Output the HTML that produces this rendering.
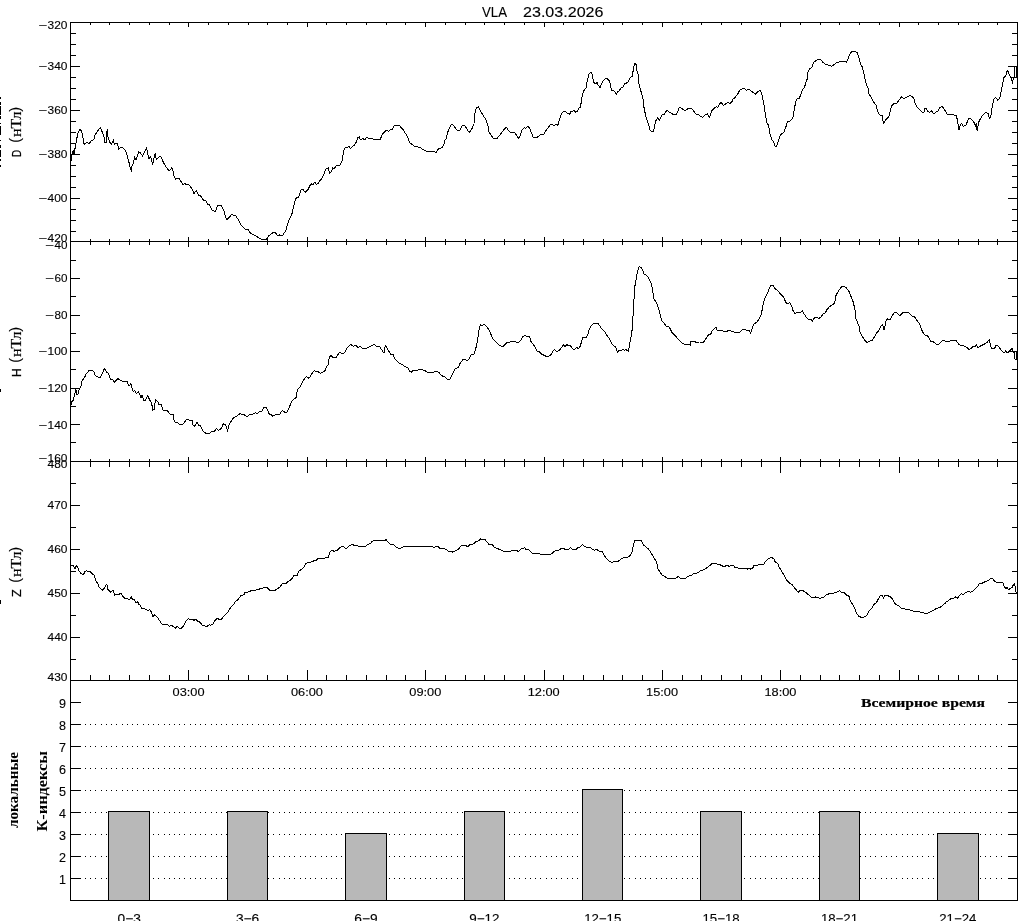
<!DOCTYPE html>
<html lang="ru"><head><meta charset="utf-8"><title>VLA 23.03.2026</title>
<style>html,body{margin:0;padding:0;background:#fff}body{width:1024px;height:921px;overflow:hidden}svg{display:block}.s{font-family:"Liberation Sans","DejaVu Sans",sans-serif;fill:#000;stroke:#000;stroke-width:.12px}.r{font-family:"Liberation Serif","DejaVu Serif",serif;fill:#000;stroke:#000;stroke-width:.2px}</style></head><body>
<svg width="1024" height="921" viewBox="0 0 1024 921">
<rect width="1024" height="921" fill="#fff"/>
<g shape-rendering="crispEdges" fill="#000">
<rect x="70" y="22" width="1" height="879"/>
<rect x="1017" y="22" width="1" height="879"/>
<rect x="70" y="22" width="948" height="1"/>
<rect x="70" y="241" width="948" height="1"/>
<rect x="70" y="461" width="948" height="1"/>
<rect x="70" y="680" width="948" height="1"/>
<rect x="70" y="900" width="948" height="1"/>
<rect x="90" y="23" width="1" height="2"/>
<rect x="90" y="239" width="1" height="2"/>
<rect x="90" y="242" width="1" height="3"/>
<rect x="90" y="459" width="1" height="2"/>
<rect x="90" y="462" width="1" height="5"/>
<rect x="90" y="675" width="1" height="5"/>
<rect x="109" y="23" width="1" height="2"/>
<rect x="109" y="239" width="1" height="2"/>
<rect x="109" y="242" width="1" height="3"/>
<rect x="109" y="459" width="1" height="2"/>
<rect x="109" y="462" width="1" height="5"/>
<rect x="109" y="675" width="1" height="5"/>
<rect x="129" y="23" width="1" height="2"/>
<rect x="129" y="239" width="1" height="2"/>
<rect x="129" y="242" width="1" height="3"/>
<rect x="129" y="459" width="1" height="2"/>
<rect x="129" y="462" width="1" height="5"/>
<rect x="129" y="675" width="1" height="5"/>
<rect x="149" y="23" width="1" height="2"/>
<rect x="149" y="239" width="1" height="2"/>
<rect x="149" y="242" width="1" height="3"/>
<rect x="149" y="459" width="1" height="2"/>
<rect x="149" y="462" width="1" height="5"/>
<rect x="149" y="675" width="1" height="5"/>
<rect x="169" y="23" width="1" height="2"/>
<rect x="169" y="239" width="1" height="2"/>
<rect x="169" y="242" width="1" height="3"/>
<rect x="169" y="459" width="1" height="2"/>
<rect x="169" y="462" width="1" height="5"/>
<rect x="169" y="675" width="1" height="5"/>
<rect x="188" y="23" width="1" height="4"/>
<rect x="188" y="237" width="1" height="4"/>
<rect x="188" y="242" width="1" height="5"/>
<rect x="188" y="457" width="1" height="4"/>
<rect x="188" y="462" width="1" height="11"/>
<rect x="188" y="670" width="1" height="10"/>
<rect x="208" y="23" width="1" height="2"/>
<rect x="208" y="239" width="1" height="2"/>
<rect x="208" y="242" width="1" height="3"/>
<rect x="208" y="459" width="1" height="2"/>
<rect x="208" y="462" width="1" height="5"/>
<rect x="208" y="675" width="1" height="5"/>
<rect x="228" y="23" width="1" height="2"/>
<rect x="228" y="239" width="1" height="2"/>
<rect x="228" y="242" width="1" height="3"/>
<rect x="228" y="459" width="1" height="2"/>
<rect x="228" y="462" width="1" height="5"/>
<rect x="228" y="675" width="1" height="5"/>
<rect x="248" y="23" width="1" height="2"/>
<rect x="248" y="239" width="1" height="2"/>
<rect x="248" y="242" width="1" height="3"/>
<rect x="248" y="459" width="1" height="2"/>
<rect x="248" y="462" width="1" height="5"/>
<rect x="248" y="675" width="1" height="5"/>
<rect x="267" y="23" width="1" height="2"/>
<rect x="267" y="239" width="1" height="2"/>
<rect x="267" y="242" width="1" height="3"/>
<rect x="267" y="459" width="1" height="2"/>
<rect x="267" y="462" width="1" height="5"/>
<rect x="267" y="675" width="1" height="5"/>
<rect x="287" y="23" width="1" height="2"/>
<rect x="287" y="239" width="1" height="2"/>
<rect x="287" y="242" width="1" height="3"/>
<rect x="287" y="459" width="1" height="2"/>
<rect x="287" y="462" width="1" height="5"/>
<rect x="287" y="675" width="1" height="5"/>
<rect x="307" y="23" width="1" height="4"/>
<rect x="307" y="237" width="1" height="4"/>
<rect x="307" y="242" width="1" height="5"/>
<rect x="307" y="457" width="1" height="4"/>
<rect x="307" y="462" width="1" height="11"/>
<rect x="307" y="670" width="1" height="10"/>
<rect x="326" y="23" width="1" height="2"/>
<rect x="326" y="239" width="1" height="2"/>
<rect x="326" y="242" width="1" height="3"/>
<rect x="326" y="459" width="1" height="2"/>
<rect x="326" y="462" width="1" height="5"/>
<rect x="326" y="675" width="1" height="5"/>
<rect x="346" y="23" width="1" height="2"/>
<rect x="346" y="239" width="1" height="2"/>
<rect x="346" y="242" width="1" height="3"/>
<rect x="346" y="459" width="1" height="2"/>
<rect x="346" y="462" width="1" height="5"/>
<rect x="346" y="675" width="1" height="5"/>
<rect x="366" y="23" width="1" height="2"/>
<rect x="366" y="239" width="1" height="2"/>
<rect x="366" y="242" width="1" height="3"/>
<rect x="366" y="459" width="1" height="2"/>
<rect x="366" y="462" width="1" height="5"/>
<rect x="366" y="675" width="1" height="5"/>
<rect x="386" y="23" width="1" height="2"/>
<rect x="386" y="239" width="1" height="2"/>
<rect x="386" y="242" width="1" height="3"/>
<rect x="386" y="459" width="1" height="2"/>
<rect x="386" y="462" width="1" height="5"/>
<rect x="386" y="675" width="1" height="5"/>
<rect x="405" y="23" width="1" height="2"/>
<rect x="405" y="239" width="1" height="2"/>
<rect x="405" y="242" width="1" height="3"/>
<rect x="405" y="459" width="1" height="2"/>
<rect x="405" y="462" width="1" height="5"/>
<rect x="405" y="675" width="1" height="5"/>
<rect x="425" y="23" width="1" height="4"/>
<rect x="425" y="237" width="1" height="4"/>
<rect x="425" y="242" width="1" height="5"/>
<rect x="425" y="457" width="1" height="4"/>
<rect x="425" y="462" width="1" height="11"/>
<rect x="425" y="670" width="1" height="10"/>
<rect x="445" y="23" width="1" height="2"/>
<rect x="445" y="239" width="1" height="2"/>
<rect x="445" y="242" width="1" height="3"/>
<rect x="445" y="459" width="1" height="2"/>
<rect x="445" y="462" width="1" height="5"/>
<rect x="445" y="675" width="1" height="5"/>
<rect x="465" y="23" width="1" height="2"/>
<rect x="465" y="239" width="1" height="2"/>
<rect x="465" y="242" width="1" height="3"/>
<rect x="465" y="459" width="1" height="2"/>
<rect x="465" y="462" width="1" height="5"/>
<rect x="465" y="675" width="1" height="5"/>
<rect x="484" y="23" width="1" height="2"/>
<rect x="484" y="239" width="1" height="2"/>
<rect x="484" y="242" width="1" height="3"/>
<rect x="484" y="459" width="1" height="2"/>
<rect x="484" y="462" width="1" height="5"/>
<rect x="484" y="675" width="1" height="5"/>
<rect x="504" y="23" width="1" height="2"/>
<rect x="504" y="239" width="1" height="2"/>
<rect x="504" y="242" width="1" height="3"/>
<rect x="504" y="459" width="1" height="2"/>
<rect x="504" y="462" width="1" height="5"/>
<rect x="504" y="675" width="1" height="5"/>
<rect x="524" y="23" width="1" height="2"/>
<rect x="524" y="239" width="1" height="2"/>
<rect x="524" y="242" width="1" height="3"/>
<rect x="524" y="459" width="1" height="2"/>
<rect x="524" y="462" width="1" height="5"/>
<rect x="524" y="675" width="1" height="5"/>
<rect x="544" y="23" width="1" height="4"/>
<rect x="544" y="237" width="1" height="4"/>
<rect x="544" y="242" width="1" height="5"/>
<rect x="544" y="457" width="1" height="4"/>
<rect x="544" y="462" width="1" height="11"/>
<rect x="544" y="670" width="1" height="10"/>
<rect x="563" y="23" width="1" height="2"/>
<rect x="563" y="239" width="1" height="2"/>
<rect x="563" y="242" width="1" height="3"/>
<rect x="563" y="459" width="1" height="2"/>
<rect x="563" y="462" width="1" height="5"/>
<rect x="563" y="675" width="1" height="5"/>
<rect x="583" y="23" width="1" height="2"/>
<rect x="583" y="239" width="1" height="2"/>
<rect x="583" y="242" width="1" height="3"/>
<rect x="583" y="459" width="1" height="2"/>
<rect x="583" y="462" width="1" height="5"/>
<rect x="583" y="675" width="1" height="5"/>
<rect x="603" y="23" width="1" height="2"/>
<rect x="603" y="239" width="1" height="2"/>
<rect x="603" y="242" width="1" height="3"/>
<rect x="603" y="459" width="1" height="2"/>
<rect x="603" y="462" width="1" height="5"/>
<rect x="603" y="675" width="1" height="5"/>
<rect x="622" y="23" width="1" height="2"/>
<rect x="622" y="239" width="1" height="2"/>
<rect x="622" y="242" width="1" height="3"/>
<rect x="622" y="459" width="1" height="2"/>
<rect x="622" y="462" width="1" height="5"/>
<rect x="622" y="675" width="1" height="5"/>
<rect x="642" y="23" width="1" height="2"/>
<rect x="642" y="239" width="1" height="2"/>
<rect x="642" y="242" width="1" height="3"/>
<rect x="642" y="459" width="1" height="2"/>
<rect x="642" y="462" width="1" height="5"/>
<rect x="642" y="675" width="1" height="5"/>
<rect x="662" y="23" width="1" height="4"/>
<rect x="662" y="237" width="1" height="4"/>
<rect x="662" y="242" width="1" height="5"/>
<rect x="662" y="457" width="1" height="4"/>
<rect x="662" y="462" width="1" height="11"/>
<rect x="662" y="670" width="1" height="10"/>
<rect x="682" y="23" width="1" height="2"/>
<rect x="682" y="239" width="1" height="2"/>
<rect x="682" y="242" width="1" height="3"/>
<rect x="682" y="459" width="1" height="2"/>
<rect x="682" y="462" width="1" height="5"/>
<rect x="682" y="675" width="1" height="5"/>
<rect x="701" y="23" width="1" height="2"/>
<rect x="701" y="239" width="1" height="2"/>
<rect x="701" y="242" width="1" height="3"/>
<rect x="701" y="459" width="1" height="2"/>
<rect x="701" y="462" width="1" height="5"/>
<rect x="701" y="675" width="1" height="5"/>
<rect x="721" y="23" width="1" height="2"/>
<rect x="721" y="239" width="1" height="2"/>
<rect x="721" y="242" width="1" height="3"/>
<rect x="721" y="459" width="1" height="2"/>
<rect x="721" y="462" width="1" height="5"/>
<rect x="721" y="675" width="1" height="5"/>
<rect x="741" y="23" width="1" height="2"/>
<rect x="741" y="239" width="1" height="2"/>
<rect x="741" y="242" width="1" height="3"/>
<rect x="741" y="459" width="1" height="2"/>
<rect x="741" y="462" width="1" height="5"/>
<rect x="741" y="675" width="1" height="5"/>
<rect x="761" y="23" width="1" height="2"/>
<rect x="761" y="239" width="1" height="2"/>
<rect x="761" y="242" width="1" height="3"/>
<rect x="761" y="459" width="1" height="2"/>
<rect x="761" y="462" width="1" height="5"/>
<rect x="761" y="675" width="1" height="5"/>
<rect x="780" y="23" width="1" height="4"/>
<rect x="780" y="237" width="1" height="4"/>
<rect x="780" y="242" width="1" height="5"/>
<rect x="780" y="457" width="1" height="4"/>
<rect x="780" y="462" width="1" height="11"/>
<rect x="780" y="670" width="1" height="10"/>
<rect x="800" y="23" width="1" height="2"/>
<rect x="800" y="239" width="1" height="2"/>
<rect x="800" y="242" width="1" height="3"/>
<rect x="800" y="459" width="1" height="2"/>
<rect x="800" y="462" width="1" height="5"/>
<rect x="800" y="675" width="1" height="5"/>
<rect x="820" y="23" width="1" height="2"/>
<rect x="820" y="239" width="1" height="2"/>
<rect x="820" y="242" width="1" height="3"/>
<rect x="820" y="459" width="1" height="2"/>
<rect x="820" y="462" width="1" height="5"/>
<rect x="820" y="675" width="1" height="5"/>
<rect x="839" y="23" width="1" height="2"/>
<rect x="839" y="239" width="1" height="2"/>
<rect x="839" y="242" width="1" height="3"/>
<rect x="839" y="459" width="1" height="2"/>
<rect x="839" y="462" width="1" height="5"/>
<rect x="839" y="675" width="1" height="5"/>
<rect x="859" y="23" width="1" height="2"/>
<rect x="859" y="239" width="1" height="2"/>
<rect x="859" y="242" width="1" height="3"/>
<rect x="859" y="459" width="1" height="2"/>
<rect x="859" y="462" width="1" height="5"/>
<rect x="859" y="675" width="1" height="5"/>
<rect x="879" y="23" width="1" height="2"/>
<rect x="879" y="239" width="1" height="2"/>
<rect x="879" y="242" width="1" height="3"/>
<rect x="879" y="459" width="1" height="2"/>
<rect x="879" y="462" width="1" height="5"/>
<rect x="879" y="675" width="1" height="5"/>
<rect x="899" y="23" width="1" height="4"/>
<rect x="899" y="237" width="1" height="4"/>
<rect x="899" y="242" width="1" height="5"/>
<rect x="899" y="457" width="1" height="4"/>
<rect x="899" y="462" width="1" height="11"/>
<rect x="899" y="670" width="1" height="10"/>
<rect x="918" y="23" width="1" height="2"/>
<rect x="918" y="239" width="1" height="2"/>
<rect x="918" y="242" width="1" height="3"/>
<rect x="918" y="459" width="1" height="2"/>
<rect x="918" y="462" width="1" height="5"/>
<rect x="918" y="675" width="1" height="5"/>
<rect x="938" y="23" width="1" height="2"/>
<rect x="938" y="239" width="1" height="2"/>
<rect x="938" y="242" width="1" height="3"/>
<rect x="938" y="459" width="1" height="2"/>
<rect x="938" y="462" width="1" height="5"/>
<rect x="938" y="675" width="1" height="5"/>
<rect x="958" y="23" width="1" height="2"/>
<rect x="958" y="239" width="1" height="2"/>
<rect x="958" y="242" width="1" height="3"/>
<rect x="958" y="459" width="1" height="2"/>
<rect x="958" y="462" width="1" height="5"/>
<rect x="958" y="675" width="1" height="5"/>
<rect x="978" y="23" width="1" height="2"/>
<rect x="978" y="239" width="1" height="2"/>
<rect x="978" y="242" width="1" height="3"/>
<rect x="978" y="459" width="1" height="2"/>
<rect x="978" y="462" width="1" height="5"/>
<rect x="978" y="675" width="1" height="5"/>
<rect x="997" y="23" width="1" height="2"/>
<rect x="997" y="239" width="1" height="2"/>
<rect x="997" y="242" width="1" height="3"/>
<rect x="997" y="459" width="1" height="2"/>
<rect x="997" y="462" width="1" height="5"/>
<rect x="997" y="675" width="1" height="5"/>
<rect x="71" y="33" width="5" height="1"/>
<rect x="1012" y="33" width="5" height="1"/>
<rect x="71" y="44" width="5" height="1"/>
<rect x="1012" y="44" width="5" height="1"/>
<rect x="71" y="55" width="5" height="1"/>
<rect x="1012" y="55" width="5" height="1"/>
<rect x="71" y="66" width="9" height="1"/>
<rect x="1008" y="66" width="9" height="1"/>
<rect x="71" y="77" width="5" height="1"/>
<rect x="1012" y="77" width="5" height="1"/>
<rect x="71" y="88" width="5" height="1"/>
<rect x="1012" y="88" width="5" height="1"/>
<rect x="71" y="99" width="5" height="1"/>
<rect x="1012" y="99" width="5" height="1"/>
<rect x="71" y="110" width="9" height="1"/>
<rect x="1008" y="110" width="9" height="1"/>
<rect x="71" y="121" width="5" height="1"/>
<rect x="1012" y="121" width="5" height="1"/>
<rect x="71" y="132" width="5" height="1"/>
<rect x="1012" y="132" width="5" height="1"/>
<rect x="71" y="143" width="5" height="1"/>
<rect x="1012" y="143" width="5" height="1"/>
<rect x="71" y="154" width="9" height="1"/>
<rect x="1008" y="154" width="9" height="1"/>
<rect x="71" y="165" width="5" height="1"/>
<rect x="1012" y="165" width="5" height="1"/>
<rect x="71" y="176" width="5" height="1"/>
<rect x="1012" y="176" width="5" height="1"/>
<rect x="71" y="187" width="5" height="1"/>
<rect x="1012" y="187" width="5" height="1"/>
<rect x="71" y="198" width="9" height="1"/>
<rect x="1008" y="198" width="9" height="1"/>
<rect x="71" y="209" width="5" height="1"/>
<rect x="1012" y="209" width="5" height="1"/>
<rect x="71" y="220" width="5" height="1"/>
<rect x="1012" y="220" width="5" height="1"/>
<rect x="71" y="231" width="5" height="1"/>
<rect x="1012" y="231" width="5" height="1"/>
<rect x="71" y="260" width="5" height="1"/>
<rect x="1012" y="260" width="5" height="1"/>
<rect x="71" y="278" width="9" height="1"/>
<rect x="1008" y="278" width="9" height="1"/>
<rect x="71" y="296" width="5" height="1"/>
<rect x="1012" y="296" width="5" height="1"/>
<rect x="71" y="315" width="9" height="1"/>
<rect x="1008" y="315" width="9" height="1"/>
<rect x="71" y="333" width="5" height="1"/>
<rect x="1012" y="333" width="5" height="1"/>
<rect x="71" y="351" width="9" height="1"/>
<rect x="1008" y="351" width="9" height="1"/>
<rect x="71" y="369" width="5" height="1"/>
<rect x="1012" y="369" width="5" height="1"/>
<rect x="71" y="388" width="9" height="1"/>
<rect x="1008" y="388" width="9" height="1"/>
<rect x="71" y="406" width="5" height="1"/>
<rect x="1012" y="406" width="5" height="1"/>
<rect x="71" y="424" width="9" height="1"/>
<rect x="1008" y="424" width="9" height="1"/>
<rect x="71" y="442" width="5" height="1"/>
<rect x="1012" y="442" width="5" height="1"/>
<rect x="71" y="483" width="5" height="1"/>
<rect x="1012" y="483" width="5" height="1"/>
<rect x="71" y="505" width="9" height="1"/>
<rect x="1008" y="505" width="9" height="1"/>
<rect x="71" y="527" width="5" height="1"/>
<rect x="1012" y="527" width="5" height="1"/>
<rect x="71" y="549" width="9" height="1"/>
<rect x="1008" y="549" width="9" height="1"/>
<rect x="71" y="571" width="5" height="1"/>
<rect x="1012" y="571" width="5" height="1"/>
<rect x="71" y="593" width="9" height="1"/>
<rect x="1008" y="593" width="9" height="1"/>
<rect x="71" y="615" width="5" height="1"/>
<rect x="1012" y="615" width="5" height="1"/>
<rect x="71" y="637" width="9" height="1"/>
<rect x="1008" y="637" width="9" height="1"/>
<rect x="71" y="659" width="5" height="1"/>
<rect x="1012" y="659" width="5" height="1"/>
<rect x="71" y="878" width="10" height="1"/>
<rect x="1008" y="878" width="9" height="1"/>
<rect x="71" y="856" width="10" height="1"/>
<rect x="1008" y="856" width="9" height="1"/>
<rect x="71" y="834" width="10" height="1"/>
<rect x="1008" y="834" width="9" height="1"/>
<rect x="71" y="812" width="10" height="1"/>
<rect x="1008" y="812" width="9" height="1"/>
<rect x="71" y="790" width="10" height="1"/>
<rect x="1008" y="790" width="9" height="1"/>
<rect x="71" y="768" width="10" height="1"/>
<rect x="1008" y="768" width="9" height="1"/>
<rect x="71" y="746" width="10" height="1"/>
<rect x="1008" y="746" width="9" height="1"/>
<rect x="71" y="724" width="10" height="1"/>
<rect x="1008" y="724" width="9" height="1"/>
<rect x="71" y="702" width="10" height="1"/>
<rect x="1008" y="702" width="9" height="1"/>
</g>
<g stroke="#000" stroke-width="1" stroke-dasharray="1 4.234" shape-rendering="crispEdges">
<line x1="85" y1="878.5" x2="1006" y2="878.5"/>
<line x1="85" y1="856.5" x2="1006" y2="856.5"/>
<line x1="85" y1="834.5" x2="1006" y2="834.5"/>
<line x1="85" y1="812.5" x2="1006" y2="812.5"/>
<line x1="85" y1="790.5" x2="1006" y2="790.5"/>
<line x1="85" y1="768.5" x2="1006" y2="768.5"/>
<line x1="85" y1="746.5" x2="1006" y2="746.5"/>
<line x1="85" y1="724.5" x2="1006" y2="724.5"/>
</g>
<g shape-rendering="crispEdges">
<rect x="108" y="811" width="42" height="89" fill="#000"/>
<rect x="109" y="812" width="40" height="88" fill="#b8b8b8"/>
<rect x="227" y="811" width="41" height="89" fill="#000"/>
<rect x="228" y="812" width="39" height="88" fill="#b8b8b8"/>
<rect x="345" y="833" width="42" height="67" fill="#000"/>
<rect x="346" y="834" width="40" height="66" fill="#b8b8b8"/>
<rect x="464" y="811" width="41" height="89" fill="#000"/>
<rect x="465" y="812" width="39" height="88" fill="#b8b8b8"/>
<rect x="582" y="789" width="41" height="111" fill="#000"/>
<rect x="583" y="790" width="39" height="110" fill="#b8b8b8"/>
<rect x="700" y="811" width="42" height="89" fill="#000"/>
<rect x="701" y="812" width="40" height="88" fill="#b8b8b8"/>
<rect x="819" y="811" width="41" height="89" fill="#000"/>
<rect x="820" y="812" width="39" height="88" fill="#b8b8b8"/>
<rect x="937" y="833" width="42" height="67" fill="#000"/>
<rect x="938" y="834" width="40" height="66" fill="#b8b8b8"/>
</g>
<path d="M70.9 162.5 L71.5 156.2 L73.4 150.0 L74.0 153.8 L75.2 147.5 L76.5 140.0 L77.8 133.8 L79.6 129.4 L81.5 130.6 L82.8 136.9 L84.0 144.4 L85.9 143.1 L87.1 142.5 L89.0 144.0 L90.9 141.0 L94.0 139.4 L95.0 135.0 L97.1 131.9 L100.2 127.5 L101.5 130.0 L103.8 136.2 L105.0 143.1 L106.2 142.8 L106.5 133.8 L107.4 129.4 L107.8 136.2 L109.6 141.9 L111.5 144.0 L113.4 139.8 L114.4 144.8 L115.9 142.8 L117.5 143.8 L118.6 149.4 L120.2 148.1 L121.5 147.2 L123.4 148.5 L125.2 150.2 L127.1 155.0 L129.0 162.5 L130.2 167.5 L131.5 171.2 L132.1 165.0 L133.4 163.1 L134.6 156.9 L136.2 160.0 L137.1 156.2 L138.8 151.9 L140.2 152.5 L142.5 156.0 L144.6 151.9 L146.5 147.5 L147.5 153.1 L149.0 159.0 L150.2 156.2 L151.5 158.8 L152.5 165.0 L154.0 158.1 L155.2 153.8 L156.2 159.4 L158.4 157.5 L160.2 156.5 L161.5 157.5 L162.8 161.2 L165.2 165.6 L169.0 171.0 L171.8 167.8 L173.0 170.6 L174.0 176.2 L175.9 179.4 L177.1 178.1 L179.0 178.1 L180.9 181.2 L182.8 184.4 L185.2 183.8 L187.1 185.0 L189.0 184.8 L191.5 188.1 L192.1 188.8 L194.0 193.8 L196.2 190.6 L198.4 195.0 L200.9 196.2 L203.4 200.2 L205.5 200.2 L207.5 204.0 L209.6 204.8 L212.1 210.0 L215.2 211.9 L217.5 206.0 L219.6 205.2 L221.5 206.0 L224.0 211.2 L225.9 218.1 L227.1 219.4 L229.6 216.9 L231.5 214.4 L234.0 215.6 L235.9 216.0 L238.4 220.0 L240.9 225.0 L243.4 227.5 L245.2 229.4 L247.8 229.0 L249.6 232.2 L252.8 234.8 L255.2 235.2 L257.8 237.2 L262.1 239.4 L266.5 239.4 L269.0 235.6 L271.5 233.8 L273.4 232.5 L275.9 233.1 L277.8 236.0 L279.6 235.0 L282.1 236.2 L284.0 233.1 L285.9 230.6 L287.1 225.6 L289.0 220.0 L291.8 214.4 L294.0 205.0 L295.5 199.4 L297.1 196.9 L298.4 197.5 L300.9 190.0 L302.8 189.4 L305.2 192.2 L307.8 190.0 L309.6 186.2 L311.5 183.8 L313.0 184.4 L315.0 182.2 L316.5 184.4 L318.4 183.5 L319.6 181.2 L322.1 178.1 L324.0 174.0 L325.9 169.0 L328.4 167.8 L329.6 173.5 L330.9 172.5 L332.8 167.8 L334.0 169.0 L336.5 165.2 L338.4 166.0 L340.2 165.0 L342.1 160.6 L343.4 152.5 L344.6 148.1 L347.1 147.2 L349.0 146.5 L350.5 148.5 L352.8 146.0 L354.6 145.0 L356.5 141.5 L357.8 137.5 L359.4 136.9 L360.2 139.4 L362.8 138.8 L365.0 139.4 L366.5 137.5 L369.0 138.5 L372.1 138.5 L374.0 139.5 L380.0 139.5 L382.8 133.8 L386.5 130.2 L388.4 131.2 L390.2 130.0 L392.1 129.4 L394.6 125.0 L396.5 125.6 L399.6 125.6 L400.9 127.5 L403.4 129.8 L404.6 132.5 L406.5 134.4 L409.6 142.5 L411.5 144.0 L414.6 146.5 L417.8 146.9 L420.2 147.5 L424.0 150.2 L427.8 151.5 L432.0 151.5 L434.0 151.5 L436.1 152.8 L438.4 148.8 L440.9 148.2 L442.5 147.5 L444.0 143.8 L445.0 140.0 L446.5 138.1 L447.5 132.5 L449.6 128.1 L451.5 124.4 L452.8 124.4 L454.6 126.9 L456.8 129.8 L458.4 130.6 L460.5 129.8 L461.8 126.0 L463.4 125.2 L465.0 125.8 L467.1 129.4 L469.2 132.5 L472.1 128.5 L474.0 123.8 L474.6 115.0 L476.5 107.5 L478.4 106.9 L480.2 110.2 L482.8 115.0 L485.2 118.5 L486.5 121.2 L488.4 127.5 L488.8 131.5 L490.9 134.8 L493.4 138.5 L497.1 138.5 L499.0 136.0 L501.5 133.1 L504.0 129.4 L505.9 127.5 L507.5 128.1 L508.0 130.0 L510.9 132.8 L512.8 132.2 L514.6 132.5 L516.5 135.2 L518.4 138.5 L520.0 136.2 L522.1 130.0 L524.0 127.8 L525.9 128.1 L527.8 126.2 L530.0 128.8 L531.5 133.1 L533.4 137.5 L537.1 137.5 L540.2 134.8 L543.8 134.4 L545.9 130.6 L550.2 124.8 L552.0 124.4 L554.0 125.6 L556.5 124.4 L557.8 125.2 L559.6 119.4 L561.5 113.5 L563.4 111.5 L565.2 111.5 L567.8 113.5 L569.6 114.4 L570.9 111.5 L573.0 111.0 L574.6 110.2 L575.2 112.2 L577.5 111.5 L578.4 108.5 L580.2 107.2 L581.5 101.2 L582.5 93.8 L584.0 90.6 L586.2 87.5 L587.1 81.2 L588.8 74.4 L590.9 72.2 L592.1 74.4 L593.0 79.4 L594.2 83.1 L595.5 83.8 L597.1 82.5 L598.4 85.6 L600.0 87.5 L601.2 85.0 L602.8 81.0 L605.2 78.8 L607.1 78.5 L609.2 80.6 L610.5 85.0 L611.5 90.0 L613.4 90.6 L615.2 92.2 L616.2 94.4 L617.8 91.0 L619.0 91.2 L620.9 88.1 L622.8 87.2 L624.6 83.8 L626.5 83.1 L628.4 81.9 L630.2 77.2 L632.1 76.5 L633.4 69.4 L634.6 63.5 L635.9 63.8 L636.8 70.0 L638.4 75.6 L639.0 83.8 L640.9 91.2 L642.8 97.5 L644.0 107.5 L645.9 116.9 L648.4 123.8 L650.0 130.0 L651.8 131.5 L653.4 131.2 L654.6 126.2 L655.9 120.6 L657.8 117.8 L659.6 120.2 L662.1 115.0 L664.6 114.0 L666.5 110.6 L667.8 110.6 L669.6 112.5 L672.0 113.5 L672.5 114.5 L676.2 114.5 L677.8 111.2 L679.2 107.5 L680.9 107.8 L682.8 109.4 L685.0 110.6 L687.8 108.8 L689.6 108.5 L691.5 108.5 L694.0 111.5 L695.9 114.0 L698.4 114.4 L700.5 116.5 L703.0 117.2 L705.9 114.4 L707.5 113.8 L709.6 117.5 L711.5 111.2 L714.0 108.5 L715.9 106.9 L717.8 107.2 L719.6 104.0 L720.9 102.2 L723.4 105.2 L725.9 103.8 L727.8 102.5 L730.2 103.5 L732.1 101.5 L732.8 99.4 L735.2 97.5 L737.8 93.8 L740.0 89.8 L742.1 89.0 L744.0 88.2 L746.5 90.2 L749.0 89.5 L751.5 91.2 L754.0 93.1 L755.2 94.4 L757.8 91.9 L760.0 90.2 L761.5 92.5 L762.8 98.8 L764.0 105.0 L765.5 115.0 L766.8 122.5 L768.4 125.0 L770.2 135.0 L771.8 139.4 L773.8 142.5 L775.2 146.5 L776.5 146.2 L778.0 141.9 L779.6 136.9 L781.5 133.8 L783.8 132.5 L785.9 126.9 L787.5 121.9 L789.6 121.2 L792.0 118.8 L793.4 116.2 L794.2 109.4 L795.9 101.2 L797.5 98.5 L799.0 99.0 L800.9 94.4 L802.1 90.6 L804.6 86.9 L806.5 80.6 L807.8 78.1 L807.8 72.2 L809.6 68.8 L811.5 67.8 L814.0 62.2 L817.1 59.8 L820.9 59.8 L823.4 62.8 L825.2 64.0 L828.4 65.0 L831.5 66.2 L834.0 64.8 L836.5 62.5 L838.4 62.8 L840.2 61.2 L842.8 61.9 L844.6 61.5 L846.5 62.2 L848.4 58.1 L850.2 53.1 L852.1 51.5 L854.6 51.5 L857.5 52.8 L859.0 58.1 L860.5 63.8 L862.5 67.5 L864.0 73.8 L865.2 80.0 L867.1 86.2 L868.4 88.8 L869.0 93.8 L871.5 98.1 L874.0 102.5 L876.2 105.6 L877.5 110.6 L879.6 115.0 L882.1 115.2 L883.4 123.1 L884.6 122.5 L885.5 119.4 L887.1 118.8 L889.0 116.0 L890.5 110.0 L891.8 105.6 L894.0 103.5 L897.1 103.1 L899.0 100.0 L901.5 96.9 L903.4 98.5 L905.9 97.5 L909.6 95.6 L912.0 96.2 L914.1 99.0 L915.0 103.1 L917.2 107.5 L920.4 110.2 L922.2 112.2 L924.1 112.2 L925.0 108.5 L926.2 108.1 L927.9 111.5 L929.8 112.2 L931.2 110.6 L934.1 114.0 L936.0 111.9 L938.2 111.0 L939.5 107.2 L942.5 106.9 L944.8 110.2 L947.2 114.0 L949.8 115.0 L952.9 114.8 L954.8 115.2 L956.6 116.0 L957.9 123.8 L959.1 130.0 L960.4 124.4 L961.6 123.5 L963.5 126.5 L966.0 125.0 L968.5 118.8 L970.4 118.5 L972.2 120.0 L974.1 122.5 L975.4 126.2 L976.2 123.1 L977.2 131.0 L978.5 122.5 L980.4 118.8 L982.2 115.6 L985.4 112.8 L987.9 113.1 L989.5 118.8 L991.0 115.0 L992.2 106.2 L993.8 99.4 L995.8 97.5 L997.9 100.2 L999.5 98.8 L1001.0 92.5 L1002.2 86.2 L1003.8 77.5 L1005.8 76.2 L1006.6 72.2 L1007.9 70.6 L1009.5 75.6 L1011.0 77.5 L1012.5 83.1 L1013.5 77.5 L1014.4 77.5 L1014.6 66.9 L1016.1 66.9 L1016.4 77.5 L1017.0 77.5" fill="none" stroke="#000" stroke-width="1" stroke-linejoin="round" shape-rendering="crispEdges"/>
<path d="M70.9 406.2 L71.5 401.9 L73.4 400.0 L75.2 392.5 L75.9 389.4 L76.5 395.0 L77.8 394.4 L79.0 390.0 L80.9 386.9 L81.8 381.2 L84.6 377.5 L85.9 374.4 L87.1 373.1 L89.0 370.4 L92.1 370.4 L94.0 372.2 L95.2 375.6 L97.8 376.9 L100.2 378.1 L102.5 373.1 L104.2 368.8 L105.9 370.6 L107.1 373.1 L108.0 372.8 L109.6 376.2 L110.5 379.4 L112.8 379.8 L114.6 382.2 L116.5 380.0 L118.0 378.5 L119.6 380.0 L122.1 381.0 L125.2 381.9 L127.1 381.2 L128.4 385.0 L129.6 385.6 L130.9 383.5 L132.1 388.1 L133.4 391.9 L134.6 390.6 L136.5 393.8 L138.4 391.9 L139.6 393.8 L140.9 398.1 L142.1 394.8 L144.0 401.0 L145.2 400.6 L147.5 395.6 L149.6 399.8 L151.5 402.5 L152.8 410.2 L154.2 409.4 L155.5 399.8 L157.8 401.9 L159.0 404.4 L161.2 404.8 L163.4 411.0 L165.2 410.0 L167.5 411.0 L169.6 413.5 L171.5 415.0 L173.0 413.8 L174.0 420.0 L175.2 422.5 L177.1 421.9 L179.6 425.0 L183.4 424.0 L186.5 419.4 L188.4 419.4 L190.2 420.6 L192.0 420.0 L193.0 425.0 L194.2 426.5 L197.1 422.5 L198.4 425.0 L200.2 425.6 L202.8 430.6 L205.9 433.5 L209.0 433.5 L212.1 431.5 L214.6 431.2 L216.2 428.5 L218.4 430.2 L220.2 429.8 L221.8 427.5 L223.4 423.5 L225.2 424.8 L226.8 427.5 L227.5 431.5 L229.2 423.8 L231.2 421.2 L233.4 418.1 L236.5 416.2 L240.2 413.5 L242.1 415.0 L244.2 414.8 L247.1 416.5 L249.6 414.8 L252.1 414.5 L255.2 412.8 L257.8 413.5 L260.2 411.0 L262.1 411.2 L263.8 407.5 L265.9 407.5 L267.5 409.4 L269.0 413.8 L271.5 415.0 L272.8 416.2 L275.2 414.8 L279.6 414.4 L282.1 410.6 L284.0 411.9 L286.8 412.5 L288.4 409.4 L290.2 405.0 L292.1 400.6 L294.0 398.8 L295.9 398.1 L297.5 389.4 L300.2 386.9 L302.1 382.5 L304.0 379.4 L306.5 376.5 L308.8 378.1 L310.2 376.9 L312.0 373.5 L314.2 370.6 L315.9 371.9 L317.8 371.5 L320.5 373.5 L322.8 372.2 L325.0 370.6 L326.5 366.9 L328.0 364.8 L329.0 359.4 L330.5 355.2 L332.8 357.5 L336.5 357.2 L339.2 352.5 L341.5 353.1 L343.8 353.5 L345.5 351.2 L347.1 347.8 L350.5 344.4 L353.4 346.2 L355.9 345.2 L357.8 347.5 L360.2 346.5 L362.8 348.5 L366.5 348.5 L369.6 346.5 L372.1 345.6 L374.0 344.4 L376.5 346.5 L379.6 346.5 L381.5 349.4 L383.4 352.5 L384.6 352.2 L385.2 345.2 L386.8 347.8 L388.8 351.2 L391.2 355.0 L393.4 354.8 L394.6 358.5 L397.1 361.0 L399.6 363.5 L402.1 364.4 L404.6 366.2 L407.8 367.8 L409.6 371.2 L411.5 372.2 L412.8 370.6 L415.9 371.0 L419.0 369.4 L422.1 369.8 L424.6 370.2 L427.1 372.2 L429.6 372.5 L432.0 372.5 L432.8 372.5 L435.9 371.2 L439.0 372.5 L441.5 375.6 L444.6 376.9 L447.8 379.5 L449.6 379.5 L452.1 375.0 L455.2 369.0 L458.4 367.5 L460.2 363.1 L462.8 359.8 L465.2 359.4 L467.1 360.6 L469.0 359.4 L471.2 355.0 L474.0 354.4 L475.9 348.1 L477.8 338.8 L479.0 330.0 L480.2 324.8 L482.1 325.6 L484.6 324.4 L487.1 326.9 L489.6 331.2 L492.8 338.8 L495.9 341.9 L499.0 345.0 L501.5 346.5 L503.4 346.2 L507.1 342.5 L510.2 342.0 L513.0 341.2 L516.5 342.2 L519.6 342.0 L522.8 336.9 L525.0 335.2 L527.1 336.5 L529.6 336.5 L530.9 341.2 L534.0 345.6 L537.1 351.0 L539.6 351.9 L542.1 354.4 L545.9 356.2 L549.0 356.0 L550.9 354.8 L552.0 353.1 L553.0 351.0 L554.6 349.4 L556.5 351.5 L559.6 350.2 L561.5 347.5 L563.4 344.8 L565.0 346.5 L567.1 344.4 L568.4 346.0 L570.2 345.2 L572.8 349.0 L574.6 349.4 L576.8 347.5 L578.4 348.5 L580.2 346.2 L581.5 341.9 L582.8 337.2 L584.6 337.5 L586.2 337.8 L587.8 334.4 L589.0 330.0 L590.9 326.0 L593.4 323.5 L595.9 323.1 L598.4 323.8 L600.2 326.5 L601.8 329.0 L604.6 331.5 L607.1 335.6 L609.0 338.1 L611.5 343.1 L613.4 345.6 L615.2 346.5 L616.5 349.4 L617.5 352.5 L619.0 350.2 L620.9 351.0 L622.8 349.4 L624.6 350.6 L625.9 349.4 L628.4 351.5 L629.6 344.4 L630.9 337.5 L632.1 330.0 L633.0 316.2 L633.8 303.8 L634.6 287.5 L635.9 281.2 L636.8 274.4 L638.4 268.1 L639.6 266.5 L641.5 267.8 L642.8 270.6 L644.0 274.0 L645.9 275.0 L647.8 276.5 L649.6 280.0 L651.5 284.4 L652.8 291.9 L653.8 298.5 L655.5 301.5 L657.1 304.0 L659.0 310.0 L660.9 317.5 L661.8 320.6 L664.0 323.1 L666.5 326.5 L668.4 326.0 L670.2 328.8 L672.0 332.5 L674.6 335.0 L676.5 337.2 L679.6 340.6 L682.1 343.1 L685.2 344.4 L688.4 344.4 L690.2 345.2 L690.9 341.5 L694.0 341.0 L695.9 342.2 L699.6 342.0 L703.4 342.2 L705.9 338.8 L708.4 335.0 L710.9 333.8 L712.1 331.0 L714.0 328.8 L715.9 327.2 L717.1 330.2 L720.2 330.0 L723.4 331.2 L726.5 331.2 L729.6 330.6 L732.1 331.5 L735.2 332.5 L739.6 332.5 L742.1 329.8 L744.6 329.5 L747.1 330.2 L749.0 330.6 L750.5 333.1 L752.1 328.8 L753.8 324.0 L757.1 322.2 L759.0 318.8 L761.2 315.0 L762.8 306.2 L764.6 298.8 L767.1 293.8 L769.0 289.4 L770.5 285.6 L773.4 285.2 L774.6 288.5 L777.8 290.6 L780.2 293.8 L783.4 296.9 L785.9 302.5 L787.8 303.8 L789.6 302.8 L790.9 304.4 L792.0 306.9 L792.8 310.0 L794.6 313.5 L797.8 312.5 L800.9 312.2 L802.5 310.6 L804.0 313.8 L806.5 317.5 L808.4 319.4 L810.9 319.4 L812.5 321.2 L814.6 317.5 L816.5 317.2 L819.0 318.5 L820.9 316.9 L822.8 314.4 L825.5 312.5 L827.1 309.4 L829.0 307.2 L831.5 305.2 L834.0 303.8 L835.2 300.0 L835.9 295.6 L837.8 292.2 L839.6 289.4 L841.8 286.5 L844.0 286.2 L846.5 288.1 L849.0 291.5 L850.9 296.2 L853.4 302.5 L855.2 311.2 L855.9 318.8 L857.8 323.1 L859.2 326.9 L860.0 331.9 L862.1 336.2 L864.6 340.0 L867.1 342.5 L869.6 341.2 L872.1 340.6 L874.0 337.5 L876.5 333.1 L879.0 330.2 L880.9 326.2 L882.8 324.4 L883.8 329.8 L884.6 328.8 L885.5 321.9 L887.5 318.8 L890.2 319.4 L892.1 316.2 L894.2 312.5 L895.9 312.2 L897.8 314.0 L900.2 315.6 L902.5 312.8 L905.2 312.8 L907.8 312.2 L910.2 314.0 L912.0 316.0 L912.9 316.2 L914.8 317.2 L916.6 320.0 L919.5 323.8 L921.0 328.1 L922.9 332.5 L924.8 334.8 L927.9 336.2 L930.4 341.0 L933.5 341.9 L935.8 344.0 L939.1 344.0 L941.0 341.9 L943.2 340.2 L945.4 341.2 L949.1 341.2 L951.6 340.6 L956.0 340.6 L958.5 344.0 L961.0 345.6 L964.1 346.0 L966.6 347.2 L969.1 349.4 L971.0 348.5 L972.9 346.5 L975.0 346.5 L976.6 344.8 L977.9 348.1 L981.0 345.6 L984.1 344.4 L987.2 342.2 L989.1 339.8 L989.8 341.9 L991.2 348.1 L994.8 348.1 L995.8 345.6 L997.5 345.6 L999.8 348.1 L1002.2 351.5 L1004.1 353.1 L1006.0 350.6 L1007.2 353.1 L1009.8 350.6 L1012.2 348.1 L1012.9 351.9 L1014.5 352.5 L1015.0 359.4 L1016.6 359.8 L1017.0 351.9" fill="none" stroke="#000" stroke-width="1" stroke-linejoin="round" shape-rendering="crispEdges"/>
<path d="M70.9 565.6 L73.4 565.6 L75.0 568.5 L76.2 565.6 L77.5 566.9 L78.8 570.6 L80.9 573.5 L83.4 575.0 L84.6 571.9 L86.5 570.6 L88.4 571.9 L90.2 571.2 L91.8 573.5 L94.0 575.0 L95.9 580.6 L98.0 584.0 L99.2 587.5 L102.1 590.2 L104.2 588.1 L106.2 585.0 L107.1 584.8 L107.8 589.4 L110.5 592.2 L112.5 590.6 L113.4 590.2 L114.6 595.2 L117.1 594.4 L118.4 595.0 L120.0 593.5 L121.5 593.5 L122.5 596.0 L125.2 598.5 L127.8 599.0 L129.6 600.0 L131.2 596.2 L132.5 599.8 L134.0 598.8 L135.9 602.8 L137.8 601.9 L139.0 604.4 L140.2 605.0 L141.5 608.8 L144.0 608.1 L146.5 609.8 L148.0 611.0 L149.6 609.4 L150.9 611.2 L152.8 616.5 L154.6 614.8 L157.1 616.9 L159.6 620.6 L162.1 624.4 L167.1 624.4 L169.6 626.2 L171.8 625.6 L174.0 626.9 L175.5 628.1 L177.1 626.5 L179.0 628.1 L180.5 629.0 L182.8 626.9 L185.2 622.5 L187.1 619.8 L188.4 618.8 L189.6 619.4 L192.0 619.4 L194.0 620.2 L195.9 619.4 L197.8 621.5 L199.6 621.9 L202.1 625.0 L204.6 626.0 L207.1 626.5 L209.0 624.8 L210.9 625.2 L213.0 624.0 L214.6 621.0 L217.1 618.5 L219.6 619.4 L221.5 619.0 L224.0 616.0 L227.1 613.1 L229.2 610.0 L230.9 606.9 L233.4 604.8 L235.2 601.5 L237.8 599.8 L240.9 595.6 L244.0 594.8 L245.0 592.5 L248.4 592.0 L251.5 590.6 L255.9 590.0 L259.6 589.0 L263.4 587.8 L267.1 587.5 L269.6 590.2 L272.1 590.5 L275.2 590.2 L277.8 588.5 L280.2 586.9 L282.1 583.8 L286.5 583.1 L288.4 581.2 L291.5 579.4 L294.0 575.6 L297.1 576.0 L298.8 571.2 L301.5 569.4 L304.0 567.2 L305.9 563.5 L308.4 562.5 L312.0 561.9 L313.4 561.0 L315.9 560.6 L317.8 558.5 L320.9 558.8 L324.0 558.1 L325.9 557.8 L328.4 557.2 L329.6 552.2 L332.1 550.0 L333.8 551.2 L337.1 550.6 L339.0 548.5 L341.5 546.5 L343.8 546.9 L345.9 548.5 L347.5 547.8 L349.0 546.0 L352.1 544.5 L354.0 545.2 L357.1 545.0 L359.0 546.9 L362.1 546.5 L365.2 546.5 L367.8 544.4 L370.9 543.5 L372.1 541.2 L374.6 540.5 L379.0 540.5 L384.0 540.5 L386.2 539.8 L387.8 541.9 L390.2 544.0 L394.0 544.8 L396.5 547.2 L399.6 549.0 L402.1 547.5 L404.6 546.5 L410.2 546.5 L416.5 546.5 L422.1 546.0 L426.5 546.5 L432.0 546.5 L434.0 547.5 L435.9 546.5 L438.0 546.5 L440.2 548.5 L444.6 548.5 L448.4 551.2 L450.9 551.2 L453.0 552.2 L456.5 550.2 L459.2 548.5 L461.5 545.2 L464.6 545.2 L467.8 546.5 L470.9 544.0 L473.4 544.0 L475.9 541.5 L479.0 540.6 L480.5 538.8 L482.8 539.5 L485.2 539.8 L487.1 541.9 L488.8 544.4 L492.1 544.4 L494.0 546.9 L497.1 548.5 L500.9 549.8 L504.0 551.5 L510.2 551.5 L512.1 550.5 L516.5 550.5 L518.4 551.5 L521.5 548.5 L524.6 547.8 L525.9 549.4 L528.4 549.4 L530.2 551.0 L532.5 553.5 L539.0 553.2 L540.5 554.5 L550.2 554.5 L552.0 553.5 L553.4 551.9 L555.9 550.5 L557.8 551.0 L559.6 549.2 L562.8 548.5 L565.9 549.4 L569.0 549.0 L570.5 547.5 L572.5 549.4 L576.2 549.4 L578.4 547.2 L580.2 546.9 L582.5 544.5 L584.2 546.0 L587.1 547.5 L590.2 547.2 L592.1 549.0 L594.0 550.2 L596.5 549.4 L599.6 551.2 L602.1 551.5 L604.0 555.0 L606.5 558.8 L609.0 561.0 L612.1 562.5 L614.6 561.5 L618.4 561.2 L621.5 558.5 L625.2 557.5 L628.4 556.9 L630.9 554.4 L632.1 551.9 L633.0 546.9 L634.6 540.6 L637.8 540.5 L641.2 540.5 L643.4 545.0 L645.9 546.9 L648.4 549.0 L650.9 552.5 L653.4 556.9 L655.9 561.0 L657.1 564.4 L657.5 568.5 L659.6 571.5 L662.1 575.0 L664.6 576.2 L667.1 578.2 L672.0 578.2 L675.9 578.2 L678.4 576.5 L680.0 578.2 L685.5 578.2 L687.5 576.5 L690.2 575.8 L692.1 575.0 L693.8 573.5 L697.1 573.1 L699.6 571.5 L701.5 570.2 L704.0 569.8 L706.5 568.1 L708.4 566.5 L710.5 565.0 L712.1 563.5 L715.9 563.5 L717.8 564.4 L720.2 564.8 L722.8 566.2 L725.2 566.2 L727.1 565.2 L729.0 566.2 L731.5 565.6 L733.4 565.2 L734.6 567.2 L738.4 568.2 L745.2 568.2 L747.1 569.2 L749.0 568.2 L750.9 569.2 L752.8 567.8 L754.2 565.2 L757.8 565.0 L759.6 564.4 L762.1 565.0 L764.0 563.8 L765.9 561.0 L768.4 558.5 L771.5 557.5 L774.0 558.8 L775.0 561.5 L777.8 563.8 L779.0 566.9 L780.9 570.0 L782.8 573.1 L784.6 576.2 L786.5 579.8 L789.0 582.8 L792.0 584.4 L795.2 588.8 L798.4 592.2 L800.2 590.2 L802.8 590.6 L805.9 592.5 L809.0 595.2 L811.5 597.5 L815.2 596.9 L817.1 597.5 L820.2 598.2 L823.4 597.5 L825.9 595.0 L829.0 593.8 L834.0 593.1 L837.1 591.9 L839.6 590.6 L841.5 592.2 L844.0 592.5 L846.5 595.0 L849.0 596.2 L850.2 601.0 L852.8 604.8 L854.6 608.1 L856.5 613.1 L859.0 616.5 L862.1 617.5 L865.2 616.5 L867.5 614.4 L869.0 611.0 L872.1 607.8 L874.0 604.4 L876.5 602.5 L878.4 598.8 L880.5 595.6 L882.1 595.6 L883.4 598.1 L884.6 595.6 L887.1 595.2 L890.2 596.9 L892.8 599.4 L895.2 603.8 L898.4 605.6 L902.1 608.8 L905.2 609.0 L908.4 609.4 L912.0 610.6 L916.0 611.9 L919.1 611.5 L921.6 612.5 L924.5 613.2 L927.9 613.2 L931.0 611.5 L933.5 610.6 L936.0 608.5 L939.8 607.5 L942.9 605.2 L945.4 603.1 L946.0 601.9 L948.5 600.6 L951.0 598.5 L954.1 598.1 L955.8 596.9 L957.2 598.5 L959.8 595.0 L961.6 593.5 L962.9 595.0 L966.0 592.2 L968.5 591.5 L970.4 592.2 L973.5 590.6 L976.0 587.8 L977.9 586.0 L979.1 583.5 L982.2 583.1 L984.8 581.9 L987.2 581.0 L989.1 580.0 L990.4 578.5 L992.2 578.2 L993.5 580.0 L996.0 582.2 L997.9 583.1 L999.8 582.2 L1002.9 582.8 L1004.1 586.2 L1005.8 588.8 L1007.2 587.5 L1008.5 589.8 L1010.4 588.1 L1012.2 587.5 L1013.5 584.4 L1014.5 583.8 L1015.4 587.5 L1016.0 591.9 L1017.0 592.5" fill="none" stroke="#000" stroke-width="1" stroke-linejoin="round" shape-rendering="crispEdges"/>
<text class="s" x="482" y="17" font-size="14.8" textLength="25" lengthAdjust="spacingAndGlyphs">VLA</text>
<text class="s" x="523" y="17" font-size="14.8" textLength="80.5" lengthAdjust="spacingAndGlyphs">23.03.2026</text>
<text class="s" x="67.4" y="29.1" font-size="10.8" text-anchor="end" textLength="19.9" lengthAdjust="spacingAndGlyphs">320</text>
<text class="s" x="38.15" y="29.1" font-size="10.8" textLength="8.9" lengthAdjust="spacingAndGlyphs">−</text>
<text class="s" x="67.4" y="70.2" font-size="10.8" text-anchor="end" textLength="19.9" lengthAdjust="spacingAndGlyphs">340</text>
<text class="s" x="38.15" y="70.2" font-size="10.8" textLength="8.9" lengthAdjust="spacingAndGlyphs">−</text>
<text class="s" x="67.4" y="114.2" font-size="10.8" text-anchor="end" textLength="19.9" lengthAdjust="spacingAndGlyphs">360</text>
<text class="s" x="38.15" y="114.2" font-size="10.8" textLength="8.9" lengthAdjust="spacingAndGlyphs">−</text>
<text class="s" x="67.4" y="158.2" font-size="10.8" text-anchor="end" textLength="19.9" lengthAdjust="spacingAndGlyphs">380</text>
<text class="s" x="38.15" y="158.2" font-size="10.8" textLength="8.9" lengthAdjust="spacingAndGlyphs">−</text>
<text class="s" x="67.4" y="202.2" font-size="10.8" text-anchor="end" textLength="19.9" lengthAdjust="spacingAndGlyphs">400</text>
<text class="s" x="38.15" y="202.2" font-size="10.8" textLength="8.9" lengthAdjust="spacingAndGlyphs">−</text>
<text class="s" x="67.4" y="241.6" font-size="10.8" text-anchor="end" textLength="19.9" lengthAdjust="spacingAndGlyphs">420</text>
<text class="s" x="38.15" y="241.6" font-size="10.8" textLength="8.9" lengthAdjust="spacingAndGlyphs">−</text>
<text class="s" x="67.4" y="248.8" font-size="10.8" text-anchor="end" textLength="13" lengthAdjust="spacingAndGlyphs">40</text>
<text class="s" x="45.05" y="248.8" font-size="10.8" textLength="8.9" lengthAdjust="spacingAndGlyphs">−</text>
<text class="s" x="67.4" y="282.35" font-size="10.8" text-anchor="end" textLength="13" lengthAdjust="spacingAndGlyphs">60</text>
<text class="s" x="45.05" y="282.35" font-size="10.8" textLength="8.9" lengthAdjust="spacingAndGlyphs">−</text>
<text class="s" x="67.4" y="318.9" font-size="10.8" text-anchor="end" textLength="13" lengthAdjust="spacingAndGlyphs">80</text>
<text class="s" x="45.05" y="318.9" font-size="10.8" textLength="8.9" lengthAdjust="spacingAndGlyphs">−</text>
<text class="s" x="67.4" y="355.45" font-size="10.8" text-anchor="end" textLength="19.9" lengthAdjust="spacingAndGlyphs">100</text>
<text class="s" x="38.15" y="355.45" font-size="10.8" textLength="8.9" lengthAdjust="spacingAndGlyphs">−</text>
<text class="s" x="67.4" y="392" font-size="10.8" text-anchor="end" textLength="19.9" lengthAdjust="spacingAndGlyphs">120</text>
<text class="s" x="38.15" y="392" font-size="10.8" textLength="8.9" lengthAdjust="spacingAndGlyphs">−</text>
<text class="s" x="67.4" y="428.55" font-size="10.8" text-anchor="end" textLength="19.9" lengthAdjust="spacingAndGlyphs">140</text>
<text class="s" x="38.15" y="428.55" font-size="10.8" textLength="8.9" lengthAdjust="spacingAndGlyphs">−</text>
<text class="s" x="67.4" y="462" font-size="10.8" text-anchor="end" textLength="19.9" lengthAdjust="spacingAndGlyphs">160</text>
<text class="s" x="38.15" y="462" font-size="10.8" textLength="8.9" lengthAdjust="spacingAndGlyphs">−</text>
<text class="s" x="67.4" y="467.9" font-size="10.8" text-anchor="end" textLength="19.9" lengthAdjust="spacingAndGlyphs">480</text>
<text class="s" x="67.4" y="509.3" font-size="10.8" text-anchor="end" textLength="19.9" lengthAdjust="spacingAndGlyphs">470</text>
<text class="s" x="67.4" y="553.3" font-size="10.8" text-anchor="end" textLength="19.9" lengthAdjust="spacingAndGlyphs">460</text>
<text class="s" x="67.4" y="597.3" font-size="10.8" text-anchor="end" textLength="19.9" lengthAdjust="spacingAndGlyphs">450</text>
<text class="s" x="67.4" y="641.3" font-size="10.8" text-anchor="end" textLength="19.9" lengthAdjust="spacingAndGlyphs">440</text>
<text class="s" x="67.4" y="681" font-size="10.8" text-anchor="end" textLength="19.9" lengthAdjust="spacingAndGlyphs">430</text>
<text class="s" x="66" y="883.5" font-size="12.4" text-anchor="end" textLength="7" lengthAdjust="spacingAndGlyphs">1</text>
<text class="s" x="66" y="861.5" font-size="12.4" text-anchor="end" textLength="7" lengthAdjust="spacingAndGlyphs">2</text>
<text class="s" x="66" y="839.5" font-size="12.4" text-anchor="end" textLength="7" lengthAdjust="spacingAndGlyphs">3</text>
<text class="s" x="66" y="817.5" font-size="12.4" text-anchor="end" textLength="7" lengthAdjust="spacingAndGlyphs">4</text>
<text class="s" x="66" y="795.5" font-size="12.4" text-anchor="end" textLength="7" lengthAdjust="spacingAndGlyphs">5</text>
<text class="s" x="66" y="773.5" font-size="12.4" text-anchor="end" textLength="7" lengthAdjust="spacingAndGlyphs">6</text>
<text class="s" x="66" y="751.5" font-size="12.4" text-anchor="end" textLength="7" lengthAdjust="spacingAndGlyphs">7</text>
<text class="s" x="66" y="729.5" font-size="12.4" text-anchor="end" textLength="7" lengthAdjust="spacingAndGlyphs">8</text>
<text class="s" x="66" y="707.5" font-size="12.4" text-anchor="end" textLength="7" lengthAdjust="spacingAndGlyphs">9</text>
<text class="s" x="188.575" y="696" font-size="10.5" text-anchor="middle" textLength="32" lengthAdjust="spacingAndGlyphs">03:00</text>
<text class="s" x="306.95" y="696" font-size="10.5" text-anchor="middle" textLength="32" lengthAdjust="spacingAndGlyphs">06:00</text>
<text class="s" x="425.325" y="696" font-size="10.5" text-anchor="middle" textLength="32" lengthAdjust="spacingAndGlyphs">09:00</text>
<text class="s" x="543.7" y="696" font-size="10.5" text-anchor="middle" textLength="32" lengthAdjust="spacingAndGlyphs">12:00</text>
<text class="s" x="662.075" y="696" font-size="10.5" text-anchor="middle" textLength="32" lengthAdjust="spacingAndGlyphs">15:00</text>
<text class="s" x="780.45" y="696" font-size="10.5" text-anchor="middle" textLength="32" lengthAdjust="spacingAndGlyphs">18:00</text>
<text class="s" x="129.2" y="923" font-size="12.4" text-anchor="middle" textLength="23.3" lengthAdjust="spacingAndGlyphs">0−3</text>
<text class="s" x="247.575" y="923" font-size="12.4" text-anchor="middle" textLength="23.3" lengthAdjust="spacingAndGlyphs">3−6</text>
<text class="s" x="365.95" y="923" font-size="12.4" text-anchor="middle" textLength="23.3" lengthAdjust="spacingAndGlyphs">6−9</text>
<text class="s" x="484.325" y="923" font-size="12.4" text-anchor="middle" textLength="30.2" lengthAdjust="spacingAndGlyphs">9−12</text>
<text class="s" x="602.7" y="923" font-size="12.4" text-anchor="middle" textLength="37.1" lengthAdjust="spacingAndGlyphs">12−15</text>
<text class="s" x="721.075" y="923" font-size="12.4" text-anchor="middle" textLength="37.1" lengthAdjust="spacingAndGlyphs">15−18</text>
<text class="s" x="839.45" y="923" font-size="12.4" text-anchor="middle" textLength="37.1" lengthAdjust="spacingAndGlyphs">18−21</text>
<text class="s" x="957.825" y="923" font-size="12.4" text-anchor="middle" textLength="37.1" lengthAdjust="spacingAndGlyphs">21−24</text>
<text class="r" x="861" y="707" font-size="13.5" textLength="124" lengthAdjust="spacingAndGlyphs" font-weight="bold">Всемирное время</text>
<g transform="translate(21 157) rotate(-90)"><text class="s" x="0" y="0" font-size="12.6" style="stroke-width:.25px" transform="scale(0.78 1)">D</text><text class="s" x="14.3" y="-1" font-size="14.5">(</text><text class="r" x="20" y="0" font-size="14.5" textLength="25.5" lengthAdjust="spacingAndGlyphs">нТл</text><text class="s" x="45.3" y="-1" font-size="14.5">)</text></g>
<g transform="translate(21 377) rotate(-90)"><text class="s" x="0" y="0" font-size="12.6" style="stroke-width:.25px" transform="scale(0.95 1)">H</text><text class="s" x="14.3" y="-1" font-size="14.5">(</text><text class="r" x="20" y="0" font-size="14.5" textLength="25.5" lengthAdjust="spacingAndGlyphs">нТл</text><text class="s" x="45.3" y="-1" font-size="14.5">)</text></g>
<g transform="translate(21 597) rotate(-90)"><text class="s" x="0" y="0" font-size="12.6" style="stroke-width:.25px" transform="scale(1 1)">Z</text><text class="s" x="14.3" y="-1" font-size="14.5">(</text><text class="r" x="20" y="0" font-size="14.5" textLength="25.5" lengthAdjust="spacingAndGlyphs">нТл</text><text class="s" x="45.3" y="-1" font-size="14.5">)</text></g>
<g transform="translate(17.8 828) rotate(-90)"><text class="r" x="0" y="0" font-size="14" font-weight="bold" style="stroke-width:0" textLength="76" lengthAdjust="spacingAndGlyphs">локальные</text></g>
<g transform="translate(46.7 831.5) rotate(-90)"><text class="r" x="0" y="0" font-size="14" font-weight="bold" style="stroke-width:0" textLength="80.5" lengthAdjust="spacingAndGlyphs">К-индексы</text></g>
<g fill="#000" shape-rendering="crispEdges">
<rect x="0" y="97" width="1" height="2"/>
<rect x="0" y="102" width="1" height="3"/>
<rect x="0" y="106" width="1" height="9"/>
<rect x="0" y="116" width="1" height="3"/>
<rect x="0" y="123" width="1" height="1"/>
<rect x="0" y="126" width="1" height="9"/>
<rect x="0" y="140" width="1" height="1"/>
<rect x="0" y="145" width="1" height="3"/>
<rect x="0" y="150" width="1" height="7"/>
<rect x="0" y="159" width="1" height="2"/>
<rect x="0" y="165" width="1" height="2"/>
<rect x="0" y="389" width="1" height="3"/>
<rect x="0" y="600" width="1" height="4"/>
</g>
</svg></body></html>
